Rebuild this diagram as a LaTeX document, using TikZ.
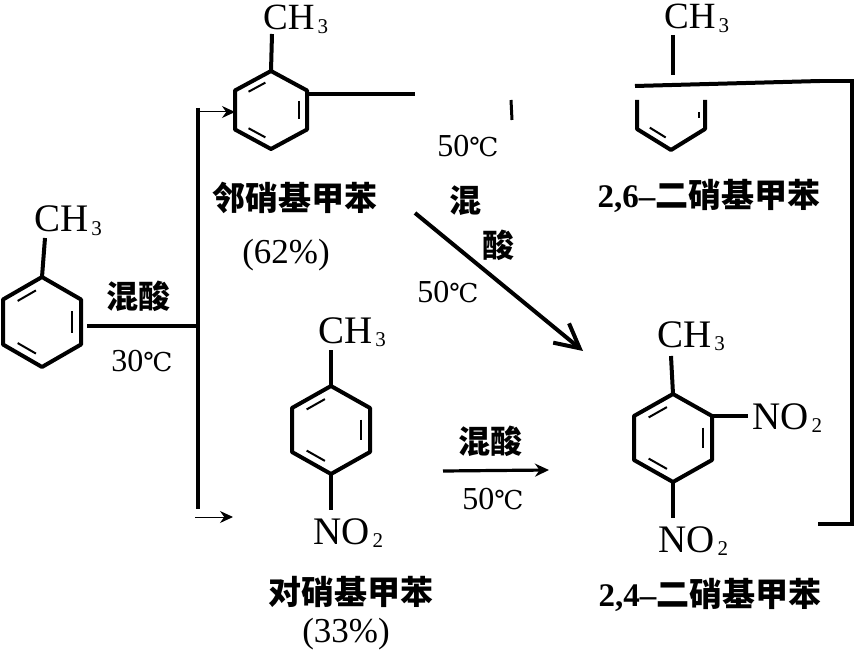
\documentclass[tikz,border=0pt]{standalone}
\usepackage{fontspec}
\setmainfont{Liberation Serif}
\newfontfamily\cjk{Noto Sans CJK SC}
\newfontfamily\degfont{DejaVu Serif}
\usetikzlibrary{arrows.meta,calc}
\newcommand{\lowsub}[1]{\raisebox{-.1em}{\fontsize{21}{21}\selectfont\kern3pt #1}}
\newcommand{\celsius}{{\degfont\fontsize{26}{26}\selectfont ℃}}
\newcommand{\cn}[1]{{\cjk #1}}
% ring corners: name, centre x, centre y, half width, half height
\newcommand{\ringpts}[5]{
  \coordinate (#1c) at (#2,#3);
  \coordinate (#1t) at (#2,#3-#5);
  \coordinate (#1ur) at (#2+#4,#3-#5/2);
  \coordinate (#1lr) at (#2+#4,#3+#5/2);
  \coordinate (#1b) at (#2,#3+#5);
  \coordinate (#1ll) at (#2-#4,#3+#5/2);
  \coordinate (#1ul) at (#2-#4,#3-#5/2);
}
\newcommand{\inbond}[3]{
  \draw[innerbond] ($(#1)!.78!($(#2)!.2!(#3)$)$) -- ($(#1)!.78!($(#3)!.2!(#2)$)$);
}
\newcommand{\benzene}[5]{
  \ringpts{#1}{#2}{#3}{#4}{#5}
  \draw[bond] (#1t) -- (#1ur) -- (#1lr) -- (#1b) -- (#1ll) -- (#1ul) -- cycle;
  \inbond{#1c}{#1ul}{#1t}
  \inbond{#1c}{#1ur}{#1lr}
  \inbond{#1c}{#1ll}{#1b}
}
\tikzset{
  bond/.style={line width=4pt,line join=round},
  innerbond/.style={line width=2pt},
  thinarrow/.style={line width=1pt,-{Stealth[length=13pt,width=12pt]}},
  chem/.style={inner sep=0pt,anchor=base west,font=\fontsize{39}{39}\selectfont},
  chemtop/.style={inner sep=0pt,anchor=base west,font=\fontsize{37}{37}\selectfont},
  temp/.style={inner sep=0pt,font=\fontsize{32}{32}\selectfont},
  yieldtext/.style={inner sep=0pt,anchor=base,font=\fontsize{35}{35}\selectfont},
  reagent/.style={inner sep=0pt,font=\cjk\bfseries\fontsize{32}{32}\selectfont},
  product/.style={inner sep=0pt,font=\bfseries\fontsize{33}{33}\selectfont}
}
\begin{document}
\begin{tikzpicture}[x=1pt,y=-1pt]
  \useasboundingbox (0,0) rectangle (855,650);
  % rings
  \benzene{a}{42}{322}{39}{45}
  \benzene{o}{271}{110}{36}{39}
  \benzene{p}{331}{430}{39}{44}
  \benzene{d}{673}{438}{39}{44}
  \ringpts{s}{671}{108}{34}{42}
  % methyl and nitro labels
  \node[chem] (ch3a) at (34,232) {CH\lowsub{3}};
  \node[chemtop] (ch3o) at (263,30) {CH\lowsub{3}};
  \node[chemtop] (ch3s) at (664,29) {CH\lowsub{3}};
  \node[chem] (ch3p) at (318,343) {CH\lowsub{3}};
  \node[chem] (ch3d) at (657,347) {CH\lowsub{3}};
  \node[chem] (no2p) at (313,544) {NO\lowsub{2}};
  \node[chem] (no2r) at (752,429) {NO\lowsub{2}};
  \node[chem] (no2d) at (658,552) {NO\lowsub{2}};
  % stubs
  \coordinate (a0) at (45,238);
  \coordinate (o0) at (272,34);
  \coordinate (s0) at (673,35);
  \coordinate (s1) at (673,75);
  \coordinate (p0) at (331,350);
  \coordinate (p1) at (331,510);
  \coordinate (d0) at (671,356);
  \coordinate (d1) at (673,518);
  \coordinate (d2) at (748,416);
  \draw[bond] (a0) -- (at);
  \draw[bond] (o0) -- (ot);
  \draw[bond] (s0) -- (s1);
  \draw[bond] (p0) -- (pt);
  \draw[bond] (pb) -- (p1);
  \draw[bond] (d0) -- (dt);
  \draw[bond] (db) -- (d1);
  \draw[bond] (dur) -- (d2);
  % the broken ring
  \coordinate (sl) at (637,100);
  \coordinate (sr) at (705,100);
  \coordinate (srf) at (699,118);
  \draw[bond] (sl) -- (sll) -- (sb) -- (slr) -- (sr);
  \inbond{sc}{sll}{sb}
  \draw[innerbond] (srf) -- ++(0,-6);
  % branch from toluene
  \coordinate (m0) at (87,326);
  \coordinate (m1) at (198,326);
  \coordinate (up) at (198,108);
  \coordinate (dn) at (198,509);
  \coordinate (upa) at (198,112);
  \coordinate (upb) at (235,112);
  \coordinate (dna) at (195,517);
  \coordinate (dnb) at (233,517);
  \draw[bond] (m0) -- (m1);
  \draw[bond] (up) -- (dn);
  \draw[thinarrow] (upa) -- (upb);
  \draw[thinarrow] (dna) -- (dnb);
  % long line, partly erased
  \coordinate (ob) at (306,94);
  \coordinate (oe) at (415,94);
  \coordinate (fa) at (511,100);
  \coordinate (fb) at (512,120);
  \coordinate (ra) at (635,86);
  \coordinate (rb) at (820,81);
  \coordinate (rc) at (852,81);
  \coordinate (rd) at (852,524);
  \coordinate (re) at (818,524);
  \draw[bond] (ob) -- (oe);
  \draw[line width=3pt] (fa) -- (fb);
  \draw[bond] (ra) -- (rb);
  \draw[line width=3.2pt,line join=miter] (rb) -- (rc) -- (rd) -- (re);
  % reaction arrows
  \coordinate (ga) at (415,213);
  \coordinate (gb) at (583,351);
  \coordinate (ha) at (443,471);
  \coordinate (hb) at (549,470);
  \draw[bond,-{Straight Barb[length=24pt,width=25pt,line width=4pt]}] (ga) -- (gb);
  \draw[line width=3.2pt,-{Stealth[length=14pt,width=13pt]}] (ha) -- (hb);
  % conditions
  \node[reagent] (mix1) at (138,296) {混酸};
  \node[temp] (t30) at (142,361) {30\celsius};
  \node[temp] (t50a) at (468,146) {50\celsius};
  \node[reagent] (mix2) at (465,201) {混};
  \node[reagent] (mix3) at (498,245) {酸};
  \node[temp] (t50b) at (448,292) {50\celsius};
  \node[reagent] (mix4) at (490,441) {混酸};
  \node[temp] (t50c) at (493,499) {50\celsius};
  % names
  \node[product] (nameo) at (295,198) {\cn{邻硝基甲苯}};
  \node[yieldtext] (yieldo) at (286,263) {(62\%)};
  \node[product] (names) at (709,196) {2,6–\cn{二硝基甲苯}};
  \node[product] (namep) at (351,592) {\cn{对硝基甲苯}};
  \node[yieldtext] (yieldp) at (346,642) {(33\%)};
  \node[product] (named) at (710,595) {2,4–\cn{二硝基甲苯}};
\end{tikzpicture}
\end{document}
